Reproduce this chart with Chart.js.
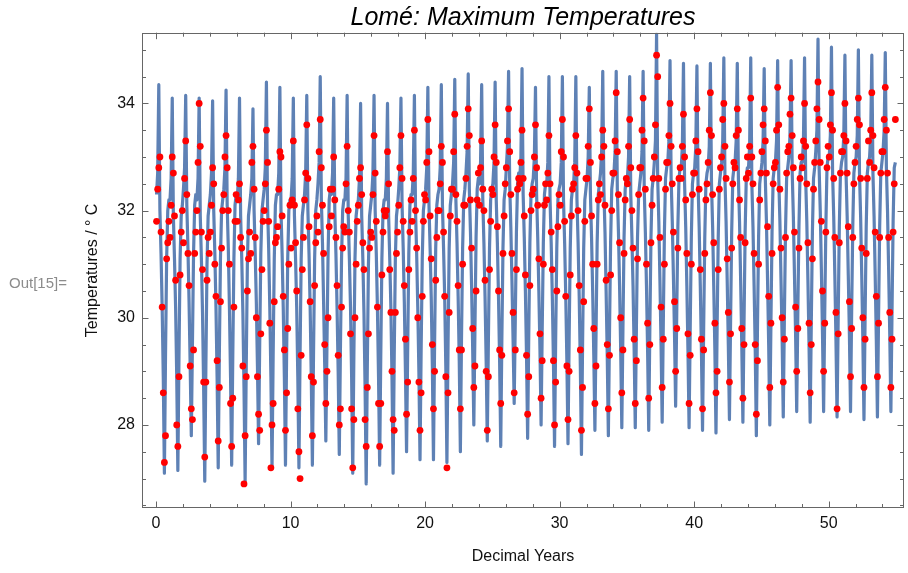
<!DOCTYPE html>
<html lang="en">
<head>
    <meta charset="UTF-8">
    <title>Lomé: Maximum Temperatures</title>
    <script src="https://cdn.jsdelivr.net/npm/chart.js@4.4.1/dist/chart.umd.min.js"></script>
    <style>
        html, body { margin: 0; padding: 0; background: #fff; }
        #wrap { position: relative; width: 908px; height: 573px; }
        #outLabel {
            position: absolute; left: 9px; top: 274px;
            font: 15px "Liberation Sans", Arial, sans-serif; line-height: 18px;
            color: #8c8c8c;
        }
    </style>
</head>
<body>
<div id="wrap">
    <canvas id="tempChart" width="908" height="573"></canvas>
    <div id="outLabel">Out[15]=</div>
</div>

<script>
    // Monthly model values (blue line), one row per year, Jan..Dec
    const modelTemps = [
        32.3, 32.7, 34.35, 32.0, 31.2, 30.2, 28.9, 27.1, 29.3, 31.1, 32.0, 32.2,
        32.2, 32.6, 34.1, 31.9, 31.1, 30.2, 28.9, 27.15, 29.3, 31.1, 31.9, 32.1,
        32.4, 32.8, 34.15, 32.1, 31.3, 30.3, 29.1, 27.8, 29.5, 31.2, 32.1, 32.3,
        32.2, 32.6, 34.1, 31.9, 31.1, 30.1, 28.7, 26.95, 29.1, 31.0, 31.9, 32.1,
        32.3, 32.7, 34.05, 32.0, 31.2, 30.2, 28.9, 27.2, 29.3, 31.1, 32.0, 32.2,
        32.4, 32.8, 34.25, 32.1, 31.3, 30.2, 28.9, 27.25, 29.3, 31.1, 32.1, 32.3,
        32.2, 32.6, 34.1, 31.9, 31.1, 30.1, 28.7, 26.95, 29.1, 31.0, 31.9, 32.1,
        32.3, 32.6, 33.9, 32.0, 31.2, 30.3, 29.1, 27.65, 29.5, 31.2, 32.0, 32.2,
        32.4, 32.8, 34.4, 32.1, 31.3, 30.2, 28.9, 27.2, 29.3, 31.1, 32.1, 32.3,
        32.3, 32.7, 34.3, 32.0, 31.2, 30.2, 28.9, 27.25, 29.3, 31.1, 32.0, 32.2,
        32.2, 32.6, 34.1, 31.9, 31.1, 30.2, 28.9, 27.2, 29.3, 31.1, 31.9, 32.1,
        32.3, 32.7, 34.15, 32.0, 31.2, 30.2, 28.9, 27.25, 29.3, 31.1, 32.0, 32.2,
        32.5, 32.9, 34.5, 32.2, 31.4, 30.3, 29.1, 27.7, 29.5, 31.2, 32.2, 32.4,
        32.3, 32.7, 34.1, 32.0, 31.2, 30.2, 29.0, 27.45, 29.4, 31.1, 32.0, 32.2,
        32.2, 32.6, 34.15, 31.9, 31.1, 30.2, 28.9, 27.1, 29.3, 31.1, 31.9, 32.1,
        32.2, 32.6, 34.0, 31.9, 31.1, 30.1, 28.7, 26.9, 29.1, 31.0, 31.9, 32.1,
        32.3, 32.7, 34.15, 32.0, 31.2, 30.2, 28.9, 27.25, 29.3, 31.1, 32.0, 32.2,
        32.2, 32.6, 34.0, 31.9, 31.1, 30.2, 28.9, 27.1, 29.3, 31.1, 31.9, 32.1,
        32.4, 32.8, 34.1, 32.1, 31.3, 30.3, 29.0, 27.5, 29.4, 31.2, 32.1, 32.3,
        32.3, 32.7, 34.15, 32.0, 31.2, 30.2, 29.0, 27.35, 29.4, 31.1, 32.0, 32.2,
        32.4, 32.8, 34.3, 32.1, 31.3, 30.4, 29.1, 27.35, 29.5, 31.3, 32.1, 32.3,
        32.4, 32.8, 34.35, 32.1, 31.3, 30.4, 29.1, 27.3, 29.5, 31.3, 32.1, 32.3,
        32.5, 32.9, 34.45, 32.2, 31.4, 30.4, 29.2, 27.5, 29.6, 31.3, 32.2, 32.4,
        32.7, 33.1, 34.55, 32.4, 31.6, 30.6, 29.4, 28.0, 29.8, 31.5, 32.4, 32.6,
        32.5, 32.9, 34.35, 32.2, 31.4, 30.4, 29.2, 27.7, 29.6, 31.3, 32.2, 32.4,
        32.5, 32.9, 34.4, 32.2, 31.4, 30.4, 29.2, 27.6, 29.6, 31.3, 32.2, 32.4,
        32.8, 33.2, 34.6, 32.5, 31.7, 30.7, 29.6, 28.4, 30.0, 31.6, 32.5, 32.7,
        32.6, 33.0, 34.65, 32.3, 31.5, 30.5, 29.3, 27.75, 29.7, 31.4, 32.3, 32.5,
        32.6, 33.0, 34.3, 32.3, 31.5, 30.5, 29.4, 28.0, 29.8, 31.4, 32.3, 32.5,
        32.5, 32.9, 34.5, 32.2, 31.4, 30.4, 29.2, 27.6, 29.6, 31.3, 32.2, 32.4,
        32.5, 32.9, 34.5, 32.2, 31.4, 30.4, 29.2, 27.65, 29.6, 31.3, 32.2, 32.4,
        32.5, 32.9, 34.5, 32.2, 31.4, 30.4, 29.1, 27.45, 29.5, 31.3, 32.2, 32.4,
        32.6, 33.0, 34.3, 32.3, 31.5, 30.5, 29.3, 27.9, 29.7, 31.4, 32.3, 32.5,
        32.7, 33.1, 34.6, 32.4, 31.6, 30.5, 29.3, 27.8, 29.7, 31.4, 32.4, 32.6,
        32.7, 33.1, 34.6, 32.4, 31.6, 30.6, 29.4, 27.95, 29.8, 31.5, 32.4, 32.6,
        32.6, 33.0, 34.5, 32.3, 31.5, 30.6, 29.4, 27.95, 29.8, 31.5, 32.3, 32.5,
        32.7, 33.1, 34.6, 32.4, 31.6, 30.6, 29.4, 27.9, 29.8, 31.5, 32.4, 32.6,
        32.9, 33.3, 35.3, 32.6, 31.8, 30.7, 29.5, 28.05, 29.9, 31.6, 32.6, 32.8,
        32.9, 33.3, 34.8, 32.6, 31.8, 30.8, 29.7, 28.35, 30.1, 31.7, 32.6, 32.8,
        32.8, 33.2, 34.75, 32.5, 31.7, 30.6, 29.4, 27.95, 29.8, 31.5, 32.5, 32.7,
        32.8, 33.2, 34.7, 32.5, 31.7, 30.6, 29.4, 27.9, 29.8, 31.5, 32.5, 32.7,
        32.8, 33.2, 34.75, 32.5, 31.7, 30.6, 29.4, 27.85, 29.8, 31.5, 32.5, 32.7,
        32.9, 33.3, 34.85, 32.6, 31.8, 30.7, 29.5, 28.1, 29.9, 31.6, 32.6, 32.8,
        32.9, 33.3, 34.75, 32.6, 31.8, 30.7, 29.5, 28.05, 29.9, 31.6, 32.6, 32.8,
        32.8, 33.2, 34.85, 32.5, 31.7, 30.6, 29.4, 27.8, 29.8, 31.5, 32.5, 32.7,
        32.9, 33.3, 34.65, 32.6, 31.8, 30.7, 29.5, 28.0, 29.9, 31.6, 32.6, 32.8,
        32.9, 33.3, 34.8, 32.6, 31.8, 30.7, 29.6, 28.15, 30.0, 31.6, 32.6, 32.8,
        33.0, 33.4, 34.8, 32.7, 31.9, 30.8, 29.7, 28.25, 30.1, 31.7, 32.7, 32.9,
        32.9, 33.3, 34.85, 32.6, 31.8, 30.7, 29.5, 28.05, 29.9, 31.6, 32.6, 32.8,
        33.1, 33.5, 35.2, 32.8, 32.0, 30.9, 29.7, 28.25, 30.1, 31.7, 32.8, 33.0,
        33.0, 33.4, 35.05, 32.7, 31.9, 30.8, 29.6, 28.15, 30.0, 31.7, 32.7, 32.9,
        33.0, 33.4, 34.9, 32.7, 31.9, 30.8, 29.7, 28.25, 30.1, 31.7, 32.7, 32.9,
        33.0, 33.4, 35.0, 32.7, 31.9, 30.8, 29.6, 28.1, 30.0, 31.7, 32.7, 32.9,
        33.0, 33.4, 34.9, 32.7, 31.9, 30.8, 29.6, 28.15, 30.0, 31.7, 32.7, 32.9,
        33.1, 33.5, 34.95, 32.8, 32.0, 30.9, 29.7, 28.25, 30.1, 31.8, 32.8, 32.9
    ];

    // Monthly observed maxima (red dots), one row per year, Jan..Dec
    const observedTemps = [
        31.8, 32.4, 32.8, 33.0, 31.6, 30.2, 28.6, 27.3, 27.8, 31.1, 31.4, 31.8,
        31.5, 32.1, 33.0, 32.7, 31.9, 30.7, 28.0, 27.6, 28.9, 30.8, 31.6, 32.0,
        31.4, 32.6, 33.3, 32.3, 31.2, 30.6, 29.1, 28.3, 28.1, 29.4, 31.2, 31.6,
        32.0, 32.9, 34.0, 33.2, 31.6, 30.9, 28.8, 27.4, 28.8, 30.7, 31.5, 31.2,
        31.6, 32.1, 32.8, 32.5, 31.0, 30.4, 29.2, 27.7, 28.7, 30.3, 31.3, 32.0,
        32.3, 33.0, 33.4, 32.8, 32.0, 31.0, 28.4, 27.6, 28.5, 30.2, 31.8, 32.3,
        31.8, 32.2, 32.5, 31.5, 31.3, 29.1, 26.9, 27.8, 28.9, 30.5, 31.1, 31.6,
        31.2, 32.9, 33.2, 32.4, 31.5, 30.0, 28.9, 28.2, 27.9, 29.7, 30.9, 31.8,
        32.0, 32.5, 33.5, 32.9, 31.8, 29.9, 27.2, 28.0, 28.4, 30.3, 31.4, 31.5,
        31.7, 32.4, 33.1, 33.0, 31.9, 30.4, 29.4, 27.9, 28.6, 29.8, 31.0, 32.1,
        31.3, 32.2, 33.3, 32.1, 31.4, 30.5, 28.3, 27.5, 27.0, 29.3, 30.9, 31.5,
        32.2, 32.7, 33.6, 32.6, 31.7, 30.3, 28.9, 27.8, 28.8, 30.6, 31.4, 31.9,
        31.6, 33.1, 33.7, 32.8, 32.1, 31.2, 29.5, 28.4, 29.0, 30.0, 31.7, 32.4,
        31.9, 32.4, 33.0, 32.2, 31.5, 30.6, 29.3, 28.0, 28.3, 30.2, 31.3, 31.7,
        31.6, 32.5, 33.2, 32.0, 31.6, 29.7, 28.3, 27.2, 28.1, 30.0, 31.0, 31.8,
        32.1, 32.6, 32.8, 32.3, 31.4, 30.9, 28.1, 27.6, 28.7, 29.7, 31.3, 31.6,
        31.5, 32.3, 33.4, 32.7, 31.8, 30.2, 28.4, 27.6, 28.4, 30.8, 31.6, 32.0,
        31.9, 32.0, 33.1, 32.5, 30.9, 30.1, 29.0, 28.1, 27.9, 30.1, 31.2, 31.6,
        32.1, 32.8, 33.4, 32.6, 31.8, 30.6, 29.6, 28.2, 28.8, 30.9, 31.6, 32.2,
        31.8, 32.6, 33.5, 32.0, 31.3, 30.0, 28.8, 27.9, 28.6, 30.4, 31.8, 32.3,
        32.2, 32.9, 33.7, 33.1, 31.9, 31.1, 29.5, 28.3, 29.0, 30.7, 31.5, 32.0,
        32.0, 32.5, 33.2, 32.9, 31.6, 30.4, 28.9, 27.2, 28.6, 30.1, 31.9, 32.4,
        32.4, 33.1, 33.8, 32.3, 31.8, 30.6, 29.4, 28.3, 29.4, 31.0, 32.1, 32.1,
        32.6, 33.2, 33.9, 33.4, 32.2, 31.3, 29.8, 28.7, 29.1, 30.5, 32.2, 32.7,
        32.1, 32.8, 33.3, 32.4, 32.0, 30.7, 29.0, 27.9, 28.9, 30.9, 31.8, 32.4,
        32.3, 33.0, 33.6, 32.9, 31.7, 30.5, 29.4, 28.4, 29.3, 31.2, 31.9, 32.5,
        32.8, 33.3, 33.9, 33.1, 32.3, 31.2, 30.1, 28.6, 29.4, 30.9, 32.4, 32.6,
        32.5, 32.9, 33.5, 32.6, 31.9, 30.8, 29.3, 28.2, 28.9, 30.6, 32.0, 32.3,
        32.4, 33.0, 33.6, 32.8, 32.1, 31.1, 29.7, 28.5, 29.2, 31.0, 32.1, 32.5,
        32.2, 32.7, 33.4, 32.5, 31.6, 30.9, 29.2, 28.0, 28.8, 30.5, 31.7, 32.3,
        32.1, 33.1, 33.7, 33.0, 31.8, 30.4, 29.1, 28.1, 29.0, 30.8, 31.9, 32.4,
        32.5, 32.8, 33.4, 32.7, 32.0, 30.6, 29.4, 27.9, 28.7, 30.3, 31.8, 32.6,
        32.6, 33.2, 33.9, 32.9, 31.9, 31.0, 29.8, 28.4, 29.1, 31.0, 32.2, 32.5,
        32.3, 33.0, 33.5, 33.2, 32.1, 30.7, 29.5, 28.3, 29.3, 30.8, 32.0, 32.7,
        32.7, 33.3, 34.2, 33.1, 32.3, 31.4, 30.0, 28.6, 29.4, 31.2, 32.2, 32.6,
        32.5, 33.2, 33.7, 32.8, 32.0, 31.3, 29.6, 28.4, 29.2, 31.1, 32.3, 32.8,
        32.8, 33.5, 34.1, 33.3, 32.4, 31.0, 29.9, 28.5, 29.5, 31.4, 32.1, 32.6,
        33.0, 33.6, 34.9, 34.5, 32.6, 31.5, 30.2, 28.7, 29.6, 31.0, 32.4, 32.9,
        32.9, 33.4, 34.0, 33.2, 32.5, 31.6, 30.3, 29.0, 29.8, 31.3, 32.6, 32.8,
        32.6, 33.2, 33.8, 33.0, 32.2, 31.2, 29.7, 28.4, 29.3, 31.0, 32.3, 32.7,
        32.7, 33.3, 33.9, 33.1, 32.4, 30.9, 29.6, 28.3, 29.4, 31.2, 32.2, 32.5,
        32.9, 33.5, 34.2, 33.4, 32.3, 31.4, 29.9, 28.6, 29.0, 30.9, 32.4, 32.8,
        33.0, 33.7, 34.0, 33.2, 32.6, 31.1, 30.1, 28.8, 29.7, 31.3, 32.5, 32.9,
        32.8, 33.4, 33.9, 33.5, 32.2, 31.5, 29.8, 28.5, 29.5, 31.4, 32.6, 33.0,
        32.7, 33.2, 34.1, 33.0, 32.5, 31.2, 29.5, 28.2, 29.2, 31.0, 32.2, 32.7,
        33.1, 33.6, 33.9, 33.3, 32.7, 31.7, 30.4, 28.7, 29.9, 31.2, 32.5, 32.8,
        32.9, 33.5, 34.3, 33.6, 32.4, 31.3, 30.0, 28.8, 29.6, 31.5, 32.7, 33.1,
        33.2, 33.8, 34.1, 33.4, 32.8, 31.6, 30.2, 29.0, 29.8, 31.3, 32.6, 33.0,
        32.8, 33.3, 34.0, 33.2, 32.5, 31.4, 29.9, 28.6, 29.5, 31.1, 32.4, 32.9,
        33.3, 33.9, 34.4, 33.7, 32.9, 31.8, 30.5, 29.0, 29.9, 31.6, 32.8, 33.2,
        33.0, 33.6, 34.2, 33.5, 32.6, 31.5, 30.1, 28.3, 29.7, 31.4, 32.7, 33.1,
        33.1, 33.4, 34.0, 33.3, 32.7, 31.7, 30.3, 28.9, 29.8, 31.5, 32.5, 32.9,
        33.2, 33.7, 34.1, 33.6, 32.6, 31.3, 30.0, 28.7, 29.6, 31.2, 32.6, 33.3,
        32.9, 33.5, 34.2, 33.4, 32.8, 31.6, 30.4, 28.9, 29.9, 31.5, 32.7, 33.1,
        33.1, 33.7, 34.3, 33.5, 32.7, 31.5, 30.1, 28.7, 29.6, 31.6, 32.5, 33.7
    ];

    const xTickLabels = [0, 10, 20, 30, 40, 50];
    const yTickLabels = [28, 30, 32, 34];

    // decimal year of each monthly value (mid-month)
    const decimalYears = modelTemps.map((_, i) => Math.floor(i / 12) + ((i % 12) + 0.5) / 12);

    const FONT = "'Liberation Sans', Arial, sans-serif";

    // Mathematica-style frame with inward ticks
    const frameTicks = {
        id: 'frameTicks',
        afterDraw(chart) {
            const { ctx, chartArea: a, scales: { x, y } } = chart;
            ctx.save();
            ctx.strokeStyle = '#666';
            ctx.lineWidth = 1;
            ctx.strokeRect(Math.round(a.left) + 0.5, Math.round(a.top) + 0.5,
                Math.round(a.width) - 1, Math.round(a.height) - 1);
            ctx.beginPath();
            for (let v = 0; v <= x.max; v += 2) {
                const px = Math.round(x.getPixelForValue(v)) + 0.5;
                const len = v % 10 === 0 ? 6.5 : 4;
                ctx.moveTo(px, a.bottom); ctx.lineTo(px, a.bottom - len);
                ctx.moveTo(px, a.top); ctx.lineTo(px, a.top + len);
            }
            for (let v = 26.5; v <= y.max; v += 0.5) {
                const py = Math.round(y.getPixelForValue(v)) + 0.5;
                const len = v % 2 === 0 ? 6.5 : 4;
                ctx.moveTo(a.left, py); ctx.lineTo(a.left + len, py);
                ctx.moveTo(a.right, py); ctx.lineTo(a.right - len, py);
            }
            ctx.stroke();
            ctx.restore();
        }
    };

    new Chart(document.getElementById('tempChart'), {
        type: 'scatter',
        data: {
            datasets: [{
                label: 'Observed',
                data: observedTemps.map((t, i) => ({ x: decimalYears[i], y: t })),
                backgroundColor: '#ff0000',
                borderWidth: 0,
                pointRadius: 3.4,
                order: 0
            }, {
                label: 'Model',
                type: 'line',
                data: modelTemps.map((t, i) => ({ x: decimalYears[i], y: t })),
                borderColor: '#5e81b5',
                borderWidth: 3.2,
                borderJoinStyle: 'round',
                pointRadius: 0,
                tension: 0,
                fill: false,
                order: 1
            }]
        },
        options: {
            responsive: false,
            devicePixelRatio: 1,
            animation: false,
            layout: { padding: { top: 0, right: 1, left: 0, bottom: 0 } },
            plugins: {
                legend: { display: false },
                tooltip: { enabled: false },
                title: {
                    display: true,
                    fullSize: false,
                    text: 'Lomé: Maximum Temperatures',
                    color: '#000',
                    font: { family: FONT, size: 25, style: 'italic', weight: 'normal' },
                    padding: { top: 2.7, bottom: 0 }
                }
            },
            scales: {
                x: {
                    type: 'linear',
                    min: -1.04,
                    max: 55.6,
                    grid: { display: false, drawTicks: false },
                    border: { display: false },
                    afterBuildTicks: s => { s.ticks = xTickLabels.map(v => ({ value: v })); },
                    afterFit: s => { s.height = 65; },
                    ticks: {
                        color: '#111',
                        padding: 6,
                        maxRotation: 0,
                        font: { family: FONT, size: 16 }
                    },
                    title: {
                        display: true,
                        text: 'Decimal Years',
                        color: '#111',
                        font: { family: FONT, size: 16 },
                        padding: { top: 0, bottom: 6.4 }
                    }
                },
                y: {
                    min: 26.45,
                    max: 35.32,
                    grid: { display: false, drawTicks: false },
                    border: { display: false },
                    afterBuildTicks: s => { s.ticks = yTickLabels.map(v => ({ value: v })); },
                    afterFit: s => { s.width = 142; },
                    ticks: {
                        color: '#111',
                        padding: 7,
                        font: { family: FONT, size: 16 }
                    },
                    title: {
                        display: true,
                        text: 'Temperatures / ° C',
                        color: '#111',
                        font: { family: FONT, size: 16 },
                        padding: { top: 83.4, bottom: 0 }
                    }
                }
            }
        },
        plugins: [frameTicks]
    });
</script>
</body>
</html>
